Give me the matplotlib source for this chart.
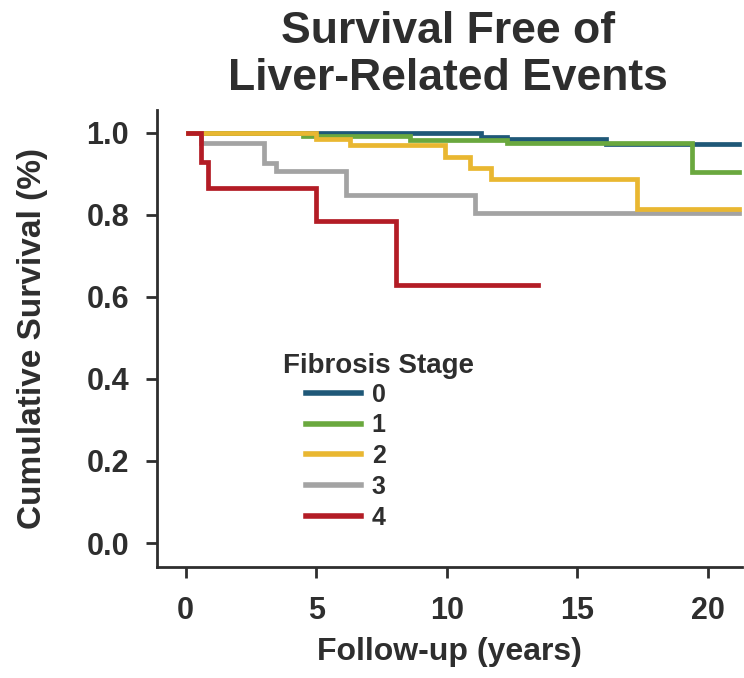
import matplotlib
matplotlib.use('Agg')
import matplotlib.pyplot as plt
from matplotlib import font_manager

# Kaplan-Meier 曲線 (図から読み取った段差)
stages = ['0', '1', '2', '3', '4']
colors = ['#1f5878', '#6aa83e', '#e9b731', '#a3a3a3', '#b31c25']

t0 = [0.1, 11.3, 12.3, 16.1, 21.2]
s0 = [1.0, 0.990, 0.986, 0.972, 0.972]
t1 = [0.1, 4.5, 8.6, 12.3, 19.4, 21.2]
s1 = [1.0, 0.991, 0.982, 0.975, 0.905, 0.905]
t2 = [0.1, 5.0, 6.3, 9.95, 10.9, 11.7, 17.3, 21.2]
s2 = [1.0, 0.985, 0.971, 0.940, 0.915, 0.888, 0.815, 0.815]
t3 = [0.1, 0.6, 3.0, 3.45, 6.15, 11.1, 21.2]
s3 = [1.0, 0.976, 0.927, 0.906, 0.849, 0.804, 0.804]
t4 = [0.1, 0.6, 0.85, 5.0, 8.07, 13.5]
s4 = [1.0, 0.930, 0.866, 0.784, 0.630, 0.630]

times = [t0, t1, t2, t3, t4]
survs = [s0, s1, s2, s3, s4]
zorders = [2, 3, 5, 4, 6]

xticks = [0, 5, 10, 15, 20]
yticks = [0.0, 0.2, 0.4, 0.6, 0.8, 1.0]

txt = '#2e2e2e'
names = {f.name for f in font_manager.fontManager.ttflist}
narrow = 'Liberation Sans Narrow' if 'Liberation Sans Narrow' in names else 'Liberation Sans'
plt.rcParams['font.family'] = ['Liberation Sans', 'DejaVu Sans']

fig = plt.figure(figsize=(7.44, 6.78), dpi=100)
ax = fig.add_axes([0.211, 0.164, 0.786, 0.674])

for lab, c, t, s, z in zip(stages, colors, times, survs, zorders):
    ax.step(t, s, where='post', color=c, linewidth=3.4, label=lab, zorder=z,
            solid_joinstyle='miter')

ax.set_xlim(-1.1, 21.3)
ax.set_ylim(-0.058, 1.056)
ax.set_xticks(xticks)
ax.set_yticks(yticks)
ax.set_xticklabels([str(v) for v in xticks])
ax.set_yticklabels([f'{v:.1f}' for v in yticks])
ax.tick_params(axis='both', direction='out', length=8, width=2, colors=txt,
               labelsize=22, pad=12)
for lbl in ax.get_xticklabels() + ax.get_yticklabels():
    lbl.set_fontweight('bold')
ax.tick_params(axis='x', pad=13)

for side in ['top', 'right']:
    ax.spines[side].set_visible(False)
for side in ['left', 'bottom']:
    ax.spines[side].set_linewidth(2)
    ax.spines[side].set_color(txt)

ax.set_xlabel('Follow-up (years)', fontsize=23, fontweight='bold', color=txt,
              labelpad=8)
ax.set_ylabel('Cumulative Survival (%)', fontsize=24, fontweight='bold',
              color=txt, family=[narrow, 'DejaVu Sans'], labelpad=28)

# 凡例: タイトルは別テキストで置く (参照図と同じく線より左にはみ出す)
leg = ax.legend(frameon=False, loc='upper left',
                bbox_to_anchor=(0.254, 0.403), handlelength=2.2,
                handletextpad=0.45, labelspacing=0.27, borderpad=0,
                borderaxespad=0,
                prop={'weight': 'bold', 'size': 18})
for t in leg.get_texts():
    t.set_color(txt)
for h in leg.legend_handles:
    h.set_linewidth(4)
ax.text(0.378, 0.411, 'Fibrosis Stage', transform=ax.transAxes,
        ha='center', va='bottom', fontsize=20, fontweight='bold', color=txt)

fig.text(0.602, 0.953, 'Survival Free of', ha='center', va='center',
         fontsize=32, fontweight='bold', color=txt)
fig.text(0.602, 0.884, 'Liver-Related Events', ha='center', va='center',
         fontsize=32, fontweight='bold', color=txt)

fig.savefig('out.png', dpi=100)
